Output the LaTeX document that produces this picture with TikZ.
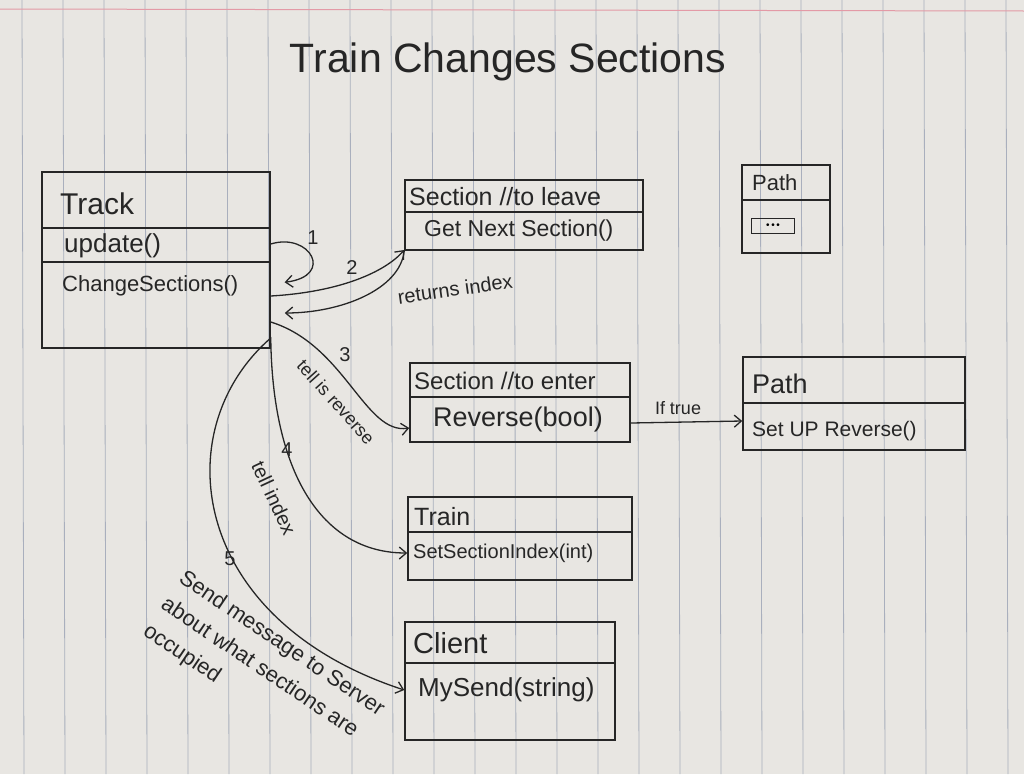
\documentclass[tikz,border=0pt]{standalone}
\usepackage{fontspec}
\setmainfont{Liberation Sans}
\usetikzlibrary{arrows.meta}
\definecolor{paper}{HTML}{E8E6E2}
\definecolor{inkc}{HTML}{262626}
\definecolor{rulec}{HTML}{A9AFBD}
\definecolor{redrule}{HTML}{E39AA6}
\newcommand{\fsz}[1]{\fontsize{#1}{#1}\selectfont}
\begin{document}
\begin{tikzpicture}[x=1pt,y=-1pt,
  ink/.style={draw=inkc, line width=1.5pt},
  box/.style={ink, rectangle, inner sep=0pt},
  lbl/.style={text=inkc, inner sep=0pt},
  conn/.style={draw=inkc, line width=1.3pt, -{Straight Barb[length=7pt,width=12pt]}}
]
\fill[paper] (0,0) rectangle (1024,774);
\useasboundingbox (0,0) rectangle (1024,774);
\foreach \k in {0,...,24} \draw[rulec, line width=0.8pt] ({22+41*\k},0) -- ({24+41*\k},774);
\draw[redrule, line width=1pt] (0,9) -- (1024,11);

% title
\node[lbl, font=\fsz{41}] (title) at (508,62) {Train Changes Sections};

% Track
\node[box, minimum width=228pt, minimum height=176pt] (track) at (156,260) {};
\draw[ink] (track.west |- 0,228) -- (track.east |- 0,228);
\draw[ink] (track.west |- 0,262) -- (track.east |- 0,262);
\node[lbl, anchor=west, font=\fsz{30}] (trackname) at (60,204) {Track};
\node[lbl, anchor=west, font=\fsz{26}] (trackupd) at (64,246) {update()};
\node[lbl, anchor=west, font=\fsz{22}] (trackchg) at (62,286) {ChangeSections()};

% Section to leave
\node[box, minimum width=238pt, minimum height=70pt] (sleave) at (524,215) {};
\draw[ink] (sleave.west |- 0,212) -- (sleave.east |- 0,212);
\node[lbl, anchor=west, font=\fsz{25}] (slname) at (409,197) {Section //to leave};
\node[lbl, anchor=west, font=\fsz{23}] (slop) at (424,231) {Get Next Section()};

% Path small
\node[box, minimum width=88pt, minimum height=88pt] (pathA) at (786,209) {};
\draw[ink] (pathA.west |- 0,200) -- (pathA.east |- 0,200);
\node[lbl, anchor=west, font=\fsz{22}] (pathAname) at (752,183) {Path};
\node[box, minimum width=43pt, minimum height=15pt, font=\fsz{10}] (pathdots) at (773,226) {\textbullet\,\textbullet\,\textbullet};

% Section to enter
\node[box, minimum width=220pt, minimum height=79pt] (senter) at (520,402.5) {};
\draw[ink] (senter.west |- 0,397) -- (senter.east |- 0,397);
\node[lbl, anchor=west, font=\fsz{24}] (sename) at (414,381) {Section //to enter};
\node[lbl, font=\fsz{27}] (seop) at (518,420) {Reverse(bool)};

% Path right
\node[box, minimum width=222pt, minimum height=93pt] (pathB) at (854,403.5) {};
\draw[ink] (pathB.west |- 0,403) -- (pathB.east |- 0,403);
\node[lbl, anchor=west, font=\fsz{27}] (pathBname) at (752,384) {Path};
\node[lbl, anchor=west, font=\fsz{21}] (pathBop) at (752,431) {Set UP Reverse()};

% Train
\node[box, minimum width=224pt, minimum height=83pt] (train) at (520,538.5) {};
\draw[ink] (train.west |- 0,532) -- (train.east |- 0,532);
\node[lbl, anchor=west, font=\fsz{25}] (trainname) at (414,517) {Train};
\node[lbl, anchor=west, font=\fsz{20}] (trainop) at (413,553) {SetSectionIndex(int)};

% Client
\node[box, minimum width=210pt, minimum height=118pt] (client) at (510,681) {};
\draw[ink] (client.west |- 0,663) -- (client.east |- 0,663);
\node[lbl, anchor=west, font=\fsz{29}] (clientname) at (413,643) {Client};
\node[lbl, anchor=west, font=\fsz{26}] (clientop) at (418,690) {MySend(string)};

% connector 1 (self loop)
\draw[conn, shorten >=14pt] (track.east |- 0,244) .. controls (310,232) and (335,276) .. (track.east |- 0,284);
\node[lbl, font=\fsz{20}] (n1) at (313,238) {1};

% connector 2
\draw[conn] (track.east |- 0,296) .. controls (340,292) and (385,272) .. (sleave.west |- 0,250);
\node[lbl, font=\fsz{20}] (n2) at (352,268) {2};

% returns index
\draw[conn, shorten >=14pt] (sleave.south west) .. controls (400,290) and (340,313) .. (track.east |- 0,313);
\node[lbl, font=\fsz{20}, rotate=8] (ret) at (455,289) {returns index};

% connector 3
\draw[conn] (track.east |- 0,322) .. controls (345,345) and (365,435) .. (senter.west |- 0,428);
\node[lbl, font=\fsz{20}] (n3) at (345,355) {3};
\node[lbl, font=\fsz{18}, rotate=-48] (tir) at (336,402) {tell is reverse};

% connector 4
\draw[conn] (track.east |- 0,337) .. controls (272,470) and (320,553) .. (train.west |- 0,553);
\node[lbl, font=\fsz{20}] (n4) at (287,450) {4};
\node[lbl, font=\fsz{20}, rotate=-65] (ti) at (274,498) {tell index};

% connector 5
\draw[conn] (track.east |- 0,338) .. controls (165,430) and (190,620) .. (client.west |- 0,690);
\node[lbl, font=\fsz{20}] (n5) at (230,559) {5};
\node[lbl, font=\fontsize{22}{32}\selectfont, rotate=-34, anchor=west, align=left] (msg) at (163,603) {Send message to Server\\about what sections are\\occupied};

% if true
\draw[conn] (senter.east |- 0,423) -- (pathB.west |- 0,421);
\node[lbl, font=\fsz{18}] (iftrue) at (678,408) {If true};
\end{tikzpicture}
\end{document}
